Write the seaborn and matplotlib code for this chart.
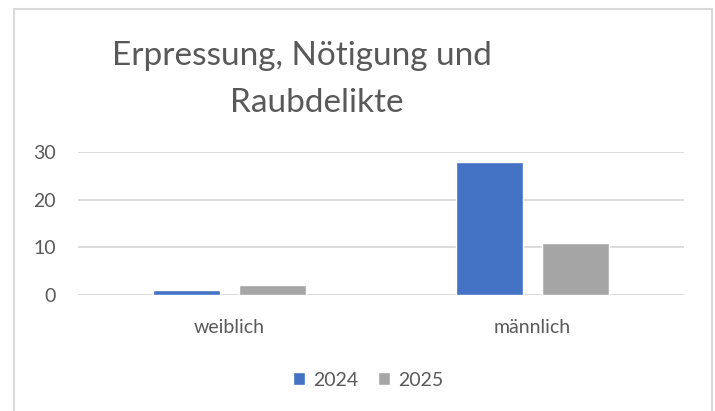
import pandas as pd
import matplotlib
matplotlib.use('Agg')
import matplotlib.pyplot as plt
import seaborn as sns
from matplotlib.patches import Rectangle

# Data
categories = ['weiblich', 'männlich']
years = ['2024', '2025']
values_2024 = [1, 28]
values_2025 = [2, 11]
y_ticks = [0, 10, 20, 30]

df = pd.DataFrame({
    'Geschlecht': categories * 2,
    'Jahr': [years[0]] * 2 + [years[1]] * 2,
    'Anzahl': values_2024 + values_2025,
})

sns.set_theme(style='white')
plt.rcParams['font.family'] = ['Lato', 'DejaVu Sans']
text_col = '#595959'

fig = plt.figure(figsize=(7.15, 4.11), dpi=100)
ax = fig.add_axes([78 / 715, 1 - 295 / 411, (684 - 78) / 715, (295 - 152) / 411])

sns.barplot(data=df, x='Geschlecht', y='Anzahl', hue='Jahr',
            palette=['#4472C4', '#A5A5A5'], width=0.567, gap=0.22,
            saturation=1, ax=ax, legend=True)

ax.set_ylim(0, 30)
ax.set_yticks(y_ticks)
ax.set_xlim(-0.5, 1.5)
ax.yaxis.grid(True, color='#D9D9D9', linewidth=1.3)
ax.set_axisbelow(True)
for s in ax.spines.values():
    s.set_visible(False)
ax.set_xlabel('')
ax.set_ylabel('')
ax.tick_params(axis='y', labelsize=14, colors=text_col, length=0, pad=16)
ax.tick_params(axis='x', labelsize=14, colors=text_col, length=0, pad=17)

# legend below
handles, labels = ax.get_legend_handles_labels()
ax.get_legend().remove()
fig.legend(handles, labels, loc='center', bbox_to_anchor=(368 / 715, 1 - 380 / 411),
           ncol=2, frameon=False, fontsize=14, labelcolor=text_col,
           handlelength=0.65, handleheight=0.65, handletextpad=0.4, columnspacing=1.0)

# title (two lines, second slightly right of first as in Excel)
fig.text(302 / 715, 1 - 56 / 411, 'Erpressung, Nötigung und',
         ha='center', va='center', fontsize=24, color=text_col)
fig.text(317 / 715, 1 - 103 / 411, 'Raubdelikte',
         ha='center', va='center', fontsize=24, color=text_col)

# chart border
fig.patches.append(Rectangle((14 / 715, -0.05), (712 - 14) / 715, 1.05 - 9 / 411,
                             transform=fig.transFigure, fill=False,
                             edgecolor='#D9D9D9', linewidth=1.5))

fig.savefig('out.png', dpi=100)
